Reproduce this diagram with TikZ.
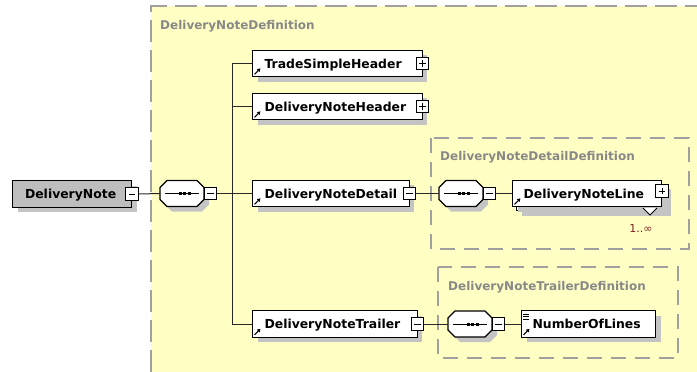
\documentclass[tikz,border=0pt]{standalone}
\usepackage{fontspec}
\setmainfont{DejaVu Sans}
\usetikzlibrary{calc,arrows.meta,shadows}

\definecolor{bgyellow}{RGB}{255,255,196}
\definecolor{dashgray}{RGB}{160,160,160}
\definecolor{labelgray}{RGB}{136,136,136}
\definecolor{shadowgray}{RGB}{196,196,196}
\definecolor{rootgray}{RGB}{190,190,190}
\definecolor{linedark}{RGB}{40,40,40}
\definecolor{occred}{RGB}{128,32,32}

% element text: fixed-width box, text set in from the left edge
\newcommand\etext[3][12]{\hbox to #2pt{\hskip#1pt #3\hfil}}

\tikzset{
  conn/.style={draw=linedark, line width=1pt},
  elem/.style={draw=black, line width=1.1pt, fill=white, minimum height=26.5pt,
    inner sep=0pt, anchor=west, text height=9pt, text depth=0pt,
    font=\bfseries\fontsize{12.4}{14}\selectfont,
    general shadow={fill=shadowgray, shadow xshift=5pt, shadow yshift=-5pt}},
  pmbox/.style={draw=black, fill=white, line width=0.9pt, minimum size=12.5pt, inner sep=0pt},
  minusbox/.style={pmbox, path picture={
      \draw[line width=0.9pt] (path picture bounding box.west) ++(3,0) -- ++(6.5,0);}},
  plusbox/.style={pmbox, path picture={
      \draw[line width=0.9pt] (path picture bounding box.west) ++(3,0) -- ++(6.5,0);
      \draw[line width=0.9pt] (path picture bounding box.north) ++(0,3) -- ++(0,6.5);}},
  seqbox/.style={minimum width=44pt, minimum height=26pt, inner sep=0pt, draw=none},
  octline/.style={draw=black, line width=1.1pt, fill=white},
  clabel/.style={inner sep=0pt, anchor=base west, text=labelgray,
    font=\bfseries\fontsize{12}{14}\selectfont},
  outerdash/.style={draw=dashgray, line width=1.8pt, dash pattern=on 22pt off 8pt},
  innerdash/.style={draw=dashgray, line width=1.3pt, dash pattern=on 15pt off 9pt},
  refarrow/.style={line width=1.1pt, -{Triangle[length=3.2pt,width=3.6pt]}},
}

% sequence compositor: octagon with dotted bar and a collapse box
% #1 name, #2 left x, #3 centre y, #4 name of the collapse box
\newcommand\seqcomp[4]{%
  \fill[shadowgray, shift={(#2+5,#3+5)}]
    (0,-6) -- (7,-13) -- (37,-13) -- (44,-6) -- (44,6) -- (37,13) -- (7,13) -- (0,6) -- cycle;
  \path[octline, shift={(#2,#3)}]
    (0,-6) -- (7,-13) -- (37,-13) -- (44,-6) -- (44,6) -- (37,13) -- (7,13) -- (0,6) -- cycle;
  \node[seqbox] (#1) at (#2+22,#3) {};
  \draw[line width=1pt] ([xshift=-17pt]#1.center) -- ([xshift=17pt]#1.center);
  \foreach \dx in {-2,2.5,7}
    \fill ([shift={(\dx-1.5,-1.5)}]#1.center) rectangle ++(3,3);
  \node[minusbox] (#4) at (#2+50.5,#3) {};
}

\newcommand\refmark[1]{\draw[refarrow] ([shift={(2.5,-3)}]#1.south west) -- ++(6,-6);}

\begin{document}
\begin{tikzpicture}[x=1pt, y=-1pt]
  \useasboundingbox (0,0) rectangle (697,372);

  % outer definition area
  \fill[bgyellow] (151,6) rectangle (697,372);
  \draw[outerdash] (151,372) -- (151,6) -- (697,6);
  \node[clabel] (lblouter) at (160,29.5) {DeliveryNoteDefinition};

  % inner definition areas
  \draw[innerdash] (431,138) rectangle (689,249);
  \node[clabel] (lbldetail) at (440,160.5) {DeliveryNoteDetailDefinition};
  \draw[innerdash] (438,267) rectangle (678,358);
  \node[clabel] (lbltrailer) at (448,290) {DeliveryNoteTrailerDefinition};

  % root element
  \node[elem, fill=rootgray] (root) at (12,194) {\etext[12.5]{119}{DeliveryNote}};
  \node[minusbox] (rootm) at (root.east) {};

  % first sequence
  \seqcomp{seqa}{160}{193.5}{seqam}
  \coordinate (bus) at (232,193.5);

  % children of the sequence
  \node[elem] (tsh) at (252,63.5) {\etext{169.5}{TradeSimpleHeader}};
  \refmark{tsh}
  \node[plusbox] (tshp) at (tsh.east) {};

  \node[elem] (dnh) at (252,106.5) {\etext{169.5}{DeliveryNoteHeader}};
  \refmark{dnh}
  \node[plusbox] (dnhp) at (dnh.east) {};

  \node[elem] (dnd) at (252,193.5) {\etext{156.5}{DeliveryNoteDetail}};
  \refmark{dnd}
  \node[minusbox] (dndm) at (dnd.east) {};

  \node[elem] (dnt) at (252,324) {\etext{164.5}{DeliveryNoteTrailer}};
  \refmark{dnt}
  \node[minusbox] (dntm) at (dnt.east) {};

  % detail sequence
  \seqcomp{seqb}{439}{193.5}{seqbm}
  \node[elem] (dnlback) at (516,197.5) {\hbox to 149pt{\hfil}};
  \node[elem] (dnl) at (512,193.5) {\etext[11]{149}{DeliveryNoteLine}};
  \refmark{dnl}
  \node[plusbox] (dnlp) at ([yshift=2.5pt]dnl.east) {};
  \draw[line width=0.8pt, fill=white] (643,208) -- (650,215) -- (657,208);
  \node[inner sep=0pt, text=occred, font=\fontsize{11}{13}\selectfont] (occ) at (641,228) {1..∞};

  % trailer sequence
  \seqcomp{seqc}{448}{324}{seqcm}
  \node[elem] (nol) at (521,324) {\etext[11]{134}{NumberOfLines}};
  \refmark{nol}
  \foreach \dy in {4,6.5,9}
    \draw[line width=0.8pt] ([shift={(2,\dy)}]nol.north west) -- ++(6,0);

  % connectors
  \draw[conn] (rootm.east) -- (seqa.west);
  \draw[conn] (seqam.east) -- (bus);
  \draw[conn] (bus |- tsh.west) -- (bus |- dnt.west);
  \foreach \n in {tsh,dnh,dnd,dnt}
    \draw[conn] (bus |- \n.west) -- (\n.west);
  \draw[conn] (dndm.east) -- (seqb.west);
  \draw[conn] (seqbm.east) -- (dnl.west);
  \draw[conn] (dntm.east) -- (seqc.west);
  \draw[conn] (seqcm.east) -- (nol.west);
\end{tikzpicture}
\end{document}
